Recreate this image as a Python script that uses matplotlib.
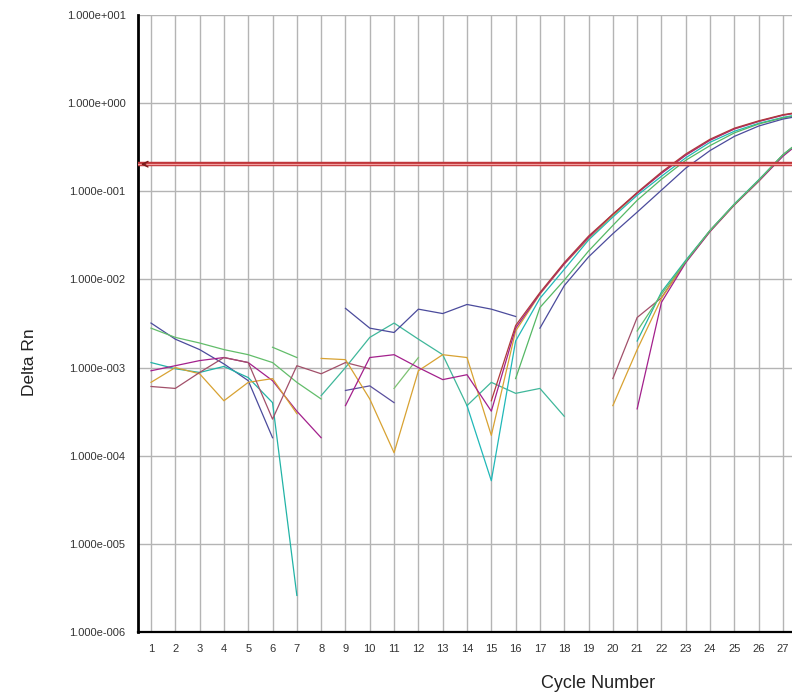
import numpy as np
import matplotlib
matplotlib.use("Agg")
import matplotlib.pyplot as plt

plt.rcParams['font.family'] = ['Liberation Sans', 'DejaVu Sans']

# amplification data (Delta Rn per cycle), each trace starts at its own cycle
navy_a = [0.0032, 0.0021, 0.0016, 0.0011, 0.00071, 0.00016]
green_a = [0.0028, 0.0022, 0.0019, 0.0016, 0.0014, 0.00114, 0.00068, 0.00044]
teal_a = [0.00114, 0.00097, 0.00088, 0.00103, 0.00077, 0.0004, 0.0000026]
magenta_a = [0.00092, 0.00105, 0.0012, 0.0013, 0.00114, 0.00071, 0.00032, 0.00016]
orange_a = [0.00068, 0.001, 0.00085, 0.00042, 0.00068, 0.00075, 0.0003]
maroon_a = [0.00061, 0.00058, 0.00088, 0.0013, 0.00114, 0.00026, 0.00105, 0.00085, 0.00114, 0.00097]
green_c = [0.0017, 0.0013]
aqua = [0.00048, 0.001, 0.0022, 0.0032, 0.0021, 0.0014, 0.00037, 0.00068, 0.00051, 0.00058, 0.00028]
navy_b = [0.0047, 0.0028, 0.0025, 0.0046, 0.0041, 0.0052, 0.0046, 0.0038]
navy_c = [0.00055, 0.00062, 0.0004]
lime_d = [0.00058, 0.0013]
orange_b = [0.00127, 0.00123, 0.00044, 0.000108, 0.00092, 0.0014, 0.0013, 0.00017,
            0.0026, 0.0068, 0.0149, 0.029, 0.053, 0.095, 0.160, 0.257, 0.38, 0.51, 0.62, 0.73, 0.81]
magenta_b = [0.00037, 0.0013, 0.0014, 0.001, 0.00073, 0.00083, 0.00032,
             0.0028, 0.0069, 0.015, 0.030, 0.055, 0.095, 0.160, 0.257, 0.38, 0.51, 0.62, 0.73, 0.81]
red_main = [0.00042, 0.0030, 0.0071, 0.0155, 0.031, 0.055, 0.097, 0.165, 0.265, 0.39, 0.52, 0.63, 0.74, 0.82]
cyan_b = [0.00037, 0.000052, 0.0020, 0.0061, 0.013, 0.028, 0.051, 0.09, 0.148, 0.24, 0.36, 0.48, 0.59, 0.69, 0.77]
green_main = [0.00075, 0.0048, 0.0098, 0.021, 0.041, 0.079, 0.137, 0.225, 0.33, 0.46, 0.58, 0.68, 0.76]
navy_main = [0.0028, 0.0085, 0.018, 0.033, 0.058, 0.103, 0.183, 0.29, 0.42, 0.55, 0.66, 0.74]
maroon2 = [0.00075, 0.0037, 0.0062, 0.016, 0.036, 0.071, 0.133, 0.26, 0.43]
orange2 = [0.00037, 0.0016, 0.0061, 0.0158, 0.035, 0.070, 0.130, 0.255, 0.42]
magenta2 = [0.00034, 0.0055, 0.0155, 0.035, 0.070, 0.130, 0.25, 0.42]
teal2 = [0.0020, 0.0072, 0.0165, 0.036, 0.072, 0.135, 0.26, 0.43]
green2 = [0.0026, 0.0068, 0.016, 0.036, 0.071, 0.133, 0.26, 0.43]

threshold = 0.203
cycle_ticks = list(range(1, 28))
y_ticks = [1e-6, 1e-5, 1e-4, 1e-3, 1e-2, 1e-1, 1e0, 1e1]
y_labels = ["1.000e-006", "1.000e-005", "1.000e-004", "1.000e-003",
            "1.000e-002", "1.000e-001", "1.000e+000", "1.000e+001"]

# (values, first cycle, colour)
traces = [
    (navy_a, 1, "#4b4b9c"), (green_a, 1, "#62bd6a"), (teal_a, 1, "#22b3a6"),
    (magenta_a, 1, "#a3208c"), (orange_a, 1, "#d8a232"), (maroon_a, 1, "#a2506a"),
    (green_c, 6, "#62bd6a"), (aqua, 8, "#3fb79a"), (navy_b, 9, "#4b4b9c"),
    (navy_c, 9, "#5a4f9e"), (lime_d, 11, "#7cc272"), (orange_b, 8, "#d8a232"),
    (magenta_b, 9, "#a3208c"), (red_main, 15, "#b03a3a"), (cyan_b, 14, "#20b8b8"),
    (green_main, 16, "#55b865"), (navy_main, 17, "#4b4b9c"),
    (maroon2, 20, "#a2506a"), (orange2, 20, "#d8a232"), (magenta2, 21, "#a3208c"),
    (teal2, 21, "#22b3a6"), (green2, 21, "#62bd6a"),
]

fig = plt.figure(figsize=(7.92, 6.97), dpi=100)
ax = fig.add_axes([138 / 792, 1 - 632 / 697, 1 - 138 / 792, 617 / 697])

for vals, start, col in traces:
    x = np.arange(start, start + len(vals))
    ax.plot(x, vals, color=col, lw=0.9, zorder=3)

# threshold line (double red look)
ax.axhline(threshold, color="#c0353a", lw=3.2, zorder=4)
ax.axhline(threshold, color="#f2a0a0", lw=0.9, zorder=5)
ax.annotate("", xy=(0.47, threshold), xytext=(0.9, threshold),
            arrowprops=dict(arrowstyle="->", color="#7a1a1a", lw=1.0), zorder=6)

ax.set_yscale("log")
ax.set_ylim(1e-6, 1e1)
ax.set_xlim(0.465, 27.37)
ax.set_xticks(cycle_ticks)
ax.set_xticklabels([str(c) for c in cycle_ticks], fontsize=8, color="#333333")
ax.set_yticks(y_ticks)
ax.set_yticklabels(y_labels, fontsize=8, color="#333333")
ax.yaxis.set_minor_locator(matplotlib.ticker.NullLocator())
ax.tick_params(length=0)
ax.tick_params(axis="y", pad=9)
ax.tick_params(axis="x", pad=9)

ax.grid(True, color="#b4b4b4", lw=1.0)
ax.set_axisbelow(True)
ax.spines["top"].set_visible(False)
ax.spines["right"].set_visible(False)
ax.spines["left"].set_linewidth(2.0)
ax.spines["bottom"].set_linewidth(1.6)

fig.text(30 / 792, 1 - 362 / 697, "Delta Rn", rotation=90, fontsize=12.5,
         ha="center", va="center", color="#222222")
fig.text(598 / 792, 1 - 683 / 697, "Cycle Number", fontsize=13,
         ha="center", va="center", color="#222222")

fig.savefig("out.png", dpi=100)
